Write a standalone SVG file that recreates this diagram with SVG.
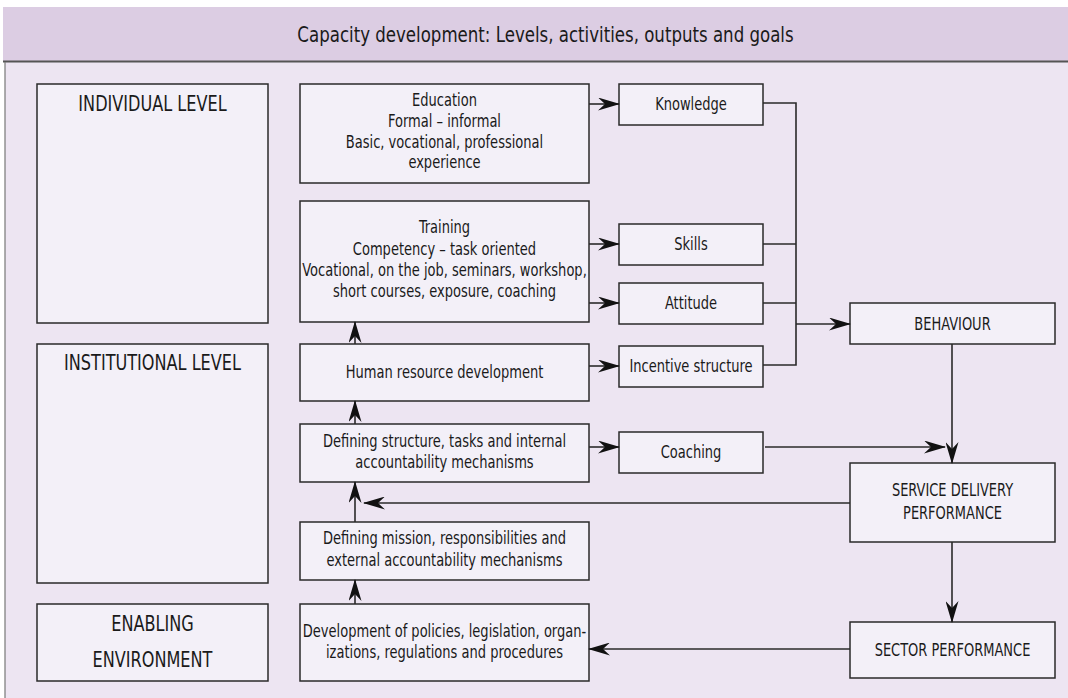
<svg xmlns="http://www.w3.org/2000/svg" width="1068" height="698" viewBox="0 0 1068 698">
<defs>
<style>
text{font-family:"Liberation Sans Narrow","DejaVu Sans Condensed","Liberation Sans",sans-serif;fill:#1a1a1a;text-anchor:middle}
.t{font-size:17px}
.c{font-size:17px}
.l{font-size:21px}
.box{fill:#f3f0f8;stroke:#2a2a2a;stroke-width:1.5}
.ln{fill:none;stroke:#2a2a2a;stroke-width:1.6}
.ar{fill:none;stroke:#2a2a2a;stroke-width:1.6;marker-end:url(#ah)}
</style>
<marker id="ah" markerUnits="userSpaceOnUse" markerWidth="22" markerHeight="13" viewBox="0 0 22 13" refX="21" refY="6.5" orient="auto">
<path d="M0,0 L22,6.5 L0,13 L7,6.5 z" fill="#111"/>
</marker>
</defs>
<rect x="0" y="0" width="1068" height="698" fill="#ffffff"/>
<rect id="header" x="3" y="7" width="1065" height="54" fill="#dccde3"/>
<rect id="body" x="5" y="62" width="1063" height="636" fill="#ede5f2"/>
<line x1="3" y1="61.5" x2="1068" y2="61.5" stroke="#555" stroke-width="2"/>
<line x1="5" y1="62" x2="5" y2="698" stroke="#777" stroke-width="1.2"/>
<text class="l" transform="translate(545.5 42) scale(0.88 1)">Capacity development: Levels, activities, outputs and goals</text>

<g id="individual-level"><rect class="box" x="37" y="84" width="231" height="239"/><text class="l" transform="translate(152.5 111) scale(0.853 1)">INDIVIDUAL LEVEL</text></g>
<g id="institutional-level"><rect class="box" x="37" y="344" width="231" height="239"/><text class="l" transform="translate(152.5 370) scale(0.853 1)">INSTITUTIONAL LEVEL</text></g>
<g id="enabling-environment"><rect class="box" x="37" y="604" width="231" height="77"/><text class="l" transform="translate(152.5 631) scale(0.853 1)">ENABLING</text><text class="l" transform="translate(152.5 667) scale(0.853 1)">ENVIRONMENT</text></g>

<g id="education"><rect class="box" x="300" y="84" width="289" height="99"/>
<text class="t" transform="translate(444.5 106) scale(0.853 1)">Education</text>
<text class="t" transform="translate(444.5 127) scale(0.853 1)">Formal – informal</text>
<text class="t" transform="translate(444.5 148) scale(0.853 1)">Basic, vocational, professional</text>
<text class="t" transform="translate(444.5 168) scale(0.853 1)">experience</text></g>
<g id="training"><rect class="box" x="300" y="201" width="289" height="121"/>
<text class="t" transform="translate(444.5 233) scale(0.853 1)">Training</text>
<text class="t" transform="translate(444.5 255) scale(0.853 1)">Competency – task oriented</text>
<text class="t" transform="translate(444.5 276) scale(0.853 1)">Vocational, on the job, seminars, workshop,</text>
<text class="t" transform="translate(444.5 297) scale(0.853 1)">short courses, exposure, coaching</text></g>
<g id="hrd"><rect class="box" x="300" y="344" width="289" height="57"/>
<text class="t" transform="translate(444.5 378) scale(0.853 1)">Human resource development</text></g>
<g id="defining-structure"><rect class="box" x="300" y="424" width="289" height="58"/>
<text class="t" transform="translate(444.5 447) scale(0.853 1)">Defining structure, tasks and internal</text>
<text class="t" transform="translate(444.5 468) scale(0.853 1)">accountability mechanisms</text></g>
<g id="defining-mission"><rect class="box" x="300" y="522" width="289" height="58"/>
<text class="t" transform="translate(444.5 544) scale(0.853 1)">Defining mission, responsibilities and</text>
<text class="t" transform="translate(444.5 566) scale(0.853 1)">external accountability mechanisms</text></g>
<g id="policies"><rect class="box" x="300" y="604" width="289" height="77"/>
<text class="t" transform="translate(444.5 637) scale(0.853 1)">Development of policies, legislation, organ-</text>
<text class="t" transform="translate(444.5 658) scale(0.853 1)">izations, regulations and procedures</text></g>

<g id="knowledge"><rect class="box" x="619" y="84" width="144" height="41"/><text class="t" transform="translate(691 110) scale(0.853 1)">Knowledge</text></g>
<g id="skills"><rect class="box" x="619" y="224" width="144" height="41"/><text class="t" transform="translate(691 250) scale(0.853 1)">Skills</text></g>
<g id="attitude"><rect class="box" x="619" y="283" width="144" height="41"/><text class="t" transform="translate(691 309) scale(0.853 1)">Attitude</text></g>
<g id="incentive"><rect class="box" x="619" y="346" width="144" height="41"/><text class="t" transform="translate(691 372) scale(0.853 1)">Incentive structure</text></g>
<g id="coaching"><rect class="box" x="619" y="432" width="144" height="41"/><text class="t" transform="translate(691 458) scale(0.853 1)">Coaching</text></g>

<g id="behaviour"><rect class="box" x="850" y="303" width="205" height="41"/><text class="c" transform="translate(952.5 330) scale(0.85 1)">BEHAVIOUR</text></g>
<g id="service-delivery"><rect class="box" x="850" y="463" width="205" height="79"/><text class="c" transform="translate(952.5 496) scale(0.85 1)">SERVICE DELIVERY</text><text class="c" transform="translate(952.5 519) scale(0.85 1)">PERFORMANCE</text></g>
<g id="sector"><rect class="box" x="850" y="622" width="205" height="56"/><text class="c" transform="translate(952.5 656) scale(0.85 1)">SECTOR PERFORMANCE</text></g>

<g id="connectors">
<line class="ar" x1="589" y1="104" x2="619" y2="104"/>
<line class="ar" x1="589" y1="244" x2="619" y2="244"/>
<line class="ar" x1="589" y1="303" x2="619" y2="303"/>
<line class="ar" x1="589" y1="366" x2="619" y2="366"/>
<line class="ar" x1="589" y1="447" x2="619" y2="447"/>
<polyline class="ln" points="763,103 796,103 796,365 763,365"/>
<line class="ln" x1="763" y1="244" x2="796" y2="244"/>
<line class="ln" x1="763" y1="303" x2="796" y2="303"/>
<line class="ar" x1="796" y1="324" x2="850" y2="324"/>
<line class="ar" x1="765" y1="447" x2="945" y2="447"/>
<line class="ar" x1="952" y1="344" x2="952" y2="463"/>
<line class="ar" x1="952" y1="542" x2="952" y2="622"/>
<line class="ar" x1="850" y1="503" x2="364" y2="503"/>
<line class="ar" x1="850" y1="649" x2="589" y2="649"/>
<line class="ar" x1="355" y1="344" x2="355" y2="322"/>
<line class="ar" x1="355" y1="424" x2="355" y2="401"/>
<line class="ar" x1="355" y1="522" x2="355" y2="482"/>
<line class="ar" x1="355" y1="604" x2="355" y2="580"/>
</g>
</svg>
